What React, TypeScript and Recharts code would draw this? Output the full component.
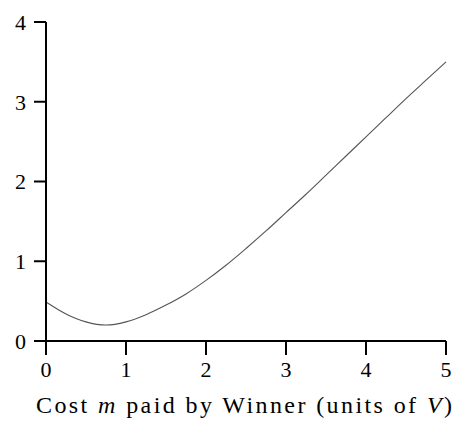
import { LineChart, Line, XAxis, YAxis, Label } from 'recharts'

const costValues = [0, 0.25, 0.5, 0.75, 1, 1.25, 1.5, 1.75, 2, 2.25, 2.5, 2.75, 3, 3.25, 3.5, 3.75, 4, 4.25, 4.5, 4.75, 5]
const curveValues = [0.49, 0.34, 0.24, 0.2, 0.24, 0.33, 0.45, 0.59, 0.76, 0.95, 1.16, 1.38, 1.61, 1.84, 2.08, 2.32, 2.56, 2.8, 3.04, 3.27, 3.5]
const xTicks = [0, 1, 2, 3, 4, 5]
const yTicks = [0, 1, 2, 3, 4]

const data = costValues.map((m, i) => ({ m, value: curveValues[i] }))

const FONT = '"Liberation Serif", serif'

const renderXLabel = (props: any) => {
  const { x, y, width, height } = props.viewBox
  return (
    <text
      x={x + width / 2 - 2}
      y={y + height - 16}
      textAnchor="middle"
      fontFamily={FONT}
      fontSize={24}
      fill="#000"
      textLength={416}
      lengthAdjust="spacing"
    >
      Cost <tspan fontStyle="italic">m</tspan> paid by Winner (units of <tspan fontStyle="italic">V</tspan>)
    </text>
  )
}

export default function App() {
  return (
    <div style={{ position: 'absolute', left: 0, top: 0, background: '#fff' }}>
      <LineChart width={456} height={429} data={data} margin={{ top: 22, right: 10, bottom: 0, left: 0 }}>
        <XAxis
          type="number"
          dataKey="m"
          domain={[0, 5]}
          ticks={xTicks}
          height={88}
          tickSize={14}
          tickMargin={6}
          axisLine={{ stroke: '#000', strokeWidth: 2 }}
          tickLine={{ stroke: '#000', strokeWidth: 2 }}
          tick={{ fill: '#000', fontFamily: FONT, fontSize: 22 }}
        >
          <Label content={renderXLabel} />
        </XAxis>
        <YAxis
          type="number"
          domain={[0, 4]}
          ticks={yTicks}
          width={46}
          tickSize={12}
          tickMargin={8}
          axisLine={{ stroke: '#000', strokeWidth: 2 }}
          tickLine={{ stroke: '#000', strokeWidth: 2 }}
          tick={{ fill: '#000', fontFamily: FONT, fontSize: 22 }}
        />
        <Line
          type="monotone"
          dataKey="value"
          stroke="#555"
          strokeWidth={1.1}
          dot={false}
          isAnimationActive={false}
        />
      </LineChart>
    </div>
  )
}
